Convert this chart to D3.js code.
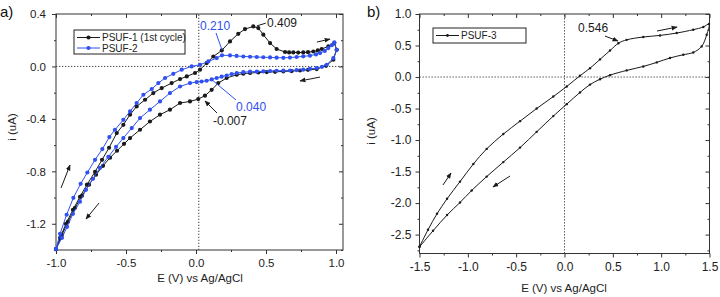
<!DOCTYPE html>
<html><head><meta charset="utf-8">
<script src="https://cdn.jsdelivr.net/npm/d3@7"></script>
<style>body{margin:0;background:#fff}svg{display:block;font-family:"Liberation Sans",Arial,sans-serif}</style>
</head><body><svg id="c" width="720" height="297"></svg>
<script>
// ---------- Panel a data (E in V, i in uA) ----------
const psuf1E = [
-1.000,-0.971,-0.929,-0.879,-0.829,-0.779,-0.721,-0.671,-0.621,-0.566,
-0.519,-0.471,-0.424,-0.364,-0.305,-0.245,-0.174,-0.114,-0.066,-0.007,
0.029,0.076,0.124,0.184,0.243,0.302,0.350,0.409,0.445,0.481,
0.529,0.576,0.636,0.665,0.695,0.730,0.766,0.800,0.838,0.870,
0.898,0.945,0.988,1.005,0.981,0.929,0.862,0.800,0.743,0.683,
0.624,0.565,0.505,0.445,0.386,0.338,0.291,0.219,0.159,0.112,
0.064,0.016,-0.043,-0.114,-0.186,-0.257,-0.329,-0.400,-0.471,-0.514,
-0.564,-0.614,-0.664,-0.714,-0.764,-0.814,-0.864,-0.914,-0.957,-1.000];
const psuf1I = [
-1.393,-1.307,-1.200,-1.093,-0.994,-0.902,-0.803,-0.712,-0.620,-0.508,
-0.445,-0.368,-0.305,-0.254,-0.203,-0.165,-0.127,-0.096,-0.076,-0.050,
-0.025,0.026,0.076,0.122,0.191,0.249,0.285,0.305,0.293,0.242,
0.178,0.133,0.110,0.107,0.107,0.106,0.107,0.109,0.114,0.122,
0.133,0.153,0.178,0.127,0.051,0.005,-0.020,-0.026,-0.031,-0.035,
-0.038,-0.041,-0.043,-0.046,-0.050,-0.055,-0.063,-0.088,-0.127,-0.178,
-0.223,-0.249,-0.267,-0.279,-0.330,-0.368,-0.420,-0.483,-0.546,-0.590,
-0.643,-0.696,-0.758,-0.826,-0.902,-0.986,-1.078,-1.184,-1.284,-1.393];
const psuf2E = [
-1.000,-0.971,-0.924,-0.876,-0.824,-0.776,-0.721,-0.669,-0.619,-0.579,
-0.519,-0.471,-0.424,-0.376,-0.316,-0.269,-0.221,-0.162,-0.102,-0.031,
0.029,0.088,0.148,0.186,0.243,0.290,0.338,0.386,0.434,0.481,
0.529,0.576,0.624,0.671,0.719,0.766,0.814,0.857,0.886,0.920,
0.945,0.970,0.988,1.005,0.981,0.934,0.900,0.862,0.814,0.766,
0.719,0.671,0.624,0.576,0.529,0.481,0.434,0.386,0.338,0.291,
0.255,0.219,0.183,0.148,0.112,0.076,0.040,0.005,-0.043,-0.114,
-0.186,-0.257,-0.329,-0.400,-0.459,-0.519,-0.571,-0.626,-0.686,-0.736,
-0.786,-0.829,-0.879,-0.921,-0.957,-1.000];
const psuf2I = [
-1.393,-1.276,-1.131,-1.002,-0.895,-0.809,-0.712,-0.630,-0.539,-0.483,
-0.407,-0.343,-0.279,-0.216,-0.172,-0.127,-0.088,-0.056,-0.025,0.000,
0.013,0.038,0.064,0.085,0.084,0.080,0.076,0.074,0.072,0.070,
0.069,0.067,0.066,0.068,0.072,0.077,0.082,0.092,0.102,0.118,
0.140,0.162,0.183,0.127,0.064,0.013,-0.003,-0.012,-0.019,-0.025,
-0.028,-0.031,-0.032,-0.033,-0.035,-0.038,-0.039,-0.040,-0.044,-0.050,
-0.058,-0.069,-0.078,-0.088,-0.099,-0.109,-0.115,-0.119,-0.127,-0.153,
-0.203,-0.267,-0.330,-0.394,-0.470,-0.546,-0.613,-0.689,-0.773,-0.857,
-0.941,-1.032,-1.124,-1.223,-1.307,-1.393];

// ---------- Panel b data ----------
const psuf3E = [
-1.500,-1.412,-1.319,-1.215,-1.081,-0.943,-0.805,-0.633,-0.460,-0.288,
-0.116,0.023,0.160,0.264,0.367,0.471,0.557,0.643,0.815,0.988,
1.161,1.332,1.436,1.495,1.471,1.419,1.332,1.229,1.091,0.954,
0.815,0.643,0.471,0.367,0.264,0.160,0.023,-0.116,-0.288,-0.460,
-0.633,-0.805,-0.960,-1.081,-1.215,-1.360,-1.500];
const psuf3I = [
-2.694,-2.424,-2.170,-1.932,-1.660,-1.380,-1.140,-0.905,-0.700,-0.500,
-0.310,-0.150,0.020,0.140,0.280,0.420,0.535,0.590,0.635,0.660,
0.698,0.751,0.794,0.841,0.671,0.486,0.390,0.354,0.302,0.232,
0.168,0.105,0.030,-0.035,-0.120,-0.245,-0.430,-0.620,-0.870,-1.120,
-1.350,-1.580,-1.800,-1.990,-2.190,-2.440,-2.694];

// ---------- Ticks ----------
const aXTicks = [-1, -0.5, 0, 0.5, 1];
const aXMinor = [-0.75, -0.25, 0.25, 0.75];
const aYTicks = [-1.2, -0.8, -0.4, 0, 0.4];
const aYMinor = [-1.4, -1.0, -0.6, -0.2, 0.2];
const bXTicks = [-1.5, -1, -0.5, 0, 0.5, 1, 1.5];
const bXMinor = [-1.25, -0.75, -0.25, 0.25, 0.75, 1.25];
const bYTicks = [-2.5, -2, -1.5, -1, -0.5, 0, 0.5, 1];
const bYMinor = [-2.75, -2.25, -1.75, -1.25, -0.75, -0.25, 0.25, 0.75];

// ---------- Annotations (data coords) ----------
const aLabels = [
  {t:"0.409", E:0.507, I:0.301, c:"black"},
  {t:"0.210", E:0.029, I:0.278, c:"blue"},
  {t:"0.040", E:0.286, I:-0.340, c:"blue"},
  {t:"-0.007", E:0.121, I:-0.447, c:"black"}];
const aLeaders = [
  {E1:0.498,I1:0.330,E2:0.434,I2:0.309,c:"black",head:false},
  {E1:0.143,I1:0.255,E2:0.186,I2:0.125,c:"blue",head:false},
  {E1:0.107,I1:-0.096,E2:0.286,I2:-0.256,c:"blue",head:false},
  {E1:0.150,I1:-0.355,E2:0.064,I2:-0.263,c:"black",head:true},
  {E1:0.864,I1:0.186,E2:0.957,I2:0.209,c:"black",head:true},
  {E1:0.886,I1:-0.081,E2:0.743,I2:-0.111,c:"black",head:true},
  {E1:-0.964,I1:-0.927,E2:-0.900,I2:-0.752,c:"black",head:true},
  {E1:-0.693,I1:-1.042,E2:-0.786,I2:-1.164,c:"black",head:true}];
const bLabels = [{t:"0.546", E:0.14, I:0.714, c:"black"}];
const bLeaders = [
  {E1:0.419,I1:0.650,E2:0.553,I2:0.571,c:"black",head:true},
  {E1:0.957,I1:0.730,E2:1.164,I2:0.793,c:"black",head:true},
  {E1:-1.257,I1:-1.713,E2:-1.174,I2:-1.523,c:"black",head:true},
  {E1:-0.564,I1:-1.571,E2:-0.740,I2:-1.745,c:"black",head:true}];

const COLORS = {black:"#1a1a1a", blue:"#3050f0"};
const zip = (E, I) => E.map((e, k) => [e, I[k]]);

const svg = d3.select("#c");
const defs = svg.append("defs");
["black","blue"].forEach(k => {
  defs.append("marker").attr("id","ah-"+k).attr("viewBox","0 0 10 10")
    .attr("refX",9).attr("refY",5).attr("markerWidth",6).attr("markerHeight",6)
    .attr("markerUnits","userSpaceOnUse").attr("orient","auto")
    .append("path").attr("d","M0,1 L10,5 L0,9 Z").attr("fill",COLORS[k]);
});

function panel(cfg) {
  const {x, y} = cfg;
  const g = svg.append("g");
  const [x0, x1] = x.range(), [y0, y1] = y.range();
  const fmt = d => d.toFixed(1);
  const styleAxis = sel => { sel.select(".domain").remove(); sel.selectAll("line").attr("stroke","#333");
    sel.selectAll("text").attr("fill","#222").style("font-size",cfg.tickFont).style("font-family",'"Liberation Sans",Arial,sans-serif'); };
  // dotted crosshair
  g.append("line").attr("x1",x0).attr("x2",x1).attr("y1",y(0)).attr("y2",y(0))
    .attr("stroke","#444").attr("stroke-dasharray","1.3,1.7");
  g.append("line").attr("x1",x(cfg.vE)).attr("x2",x(cfg.vE)).attr("y1",y0).attr("y2",y1)
    .attr("stroke","#444").attr("stroke-dasharray","1.3,1.7");
  // axes
  g.append("g").attr("transform",`translate(0,${y0})`).call(d3.axisBottom(x).tickValues(cfg.xt).tickSize(4).tickPadding(5).tickFormat(fmt)).call(styleAxis);
  g.append("g").attr("transform",`translate(0,${y0})`).call(d3.axisBottom(x).tickValues(cfg.xm).tickSize(2).tickFormat("")).call(styleAxis);
  g.append("g").attr("transform",`translate(${x0},0)`).call(d3.axisLeft(y).tickValues(cfg.yt).tickSize(4).tickPadding(cfg.yPad).tickFormat(fmt)).call(styleAxis);
  g.append("g").attr("transform",`translate(${x0},0)`).call(d3.axisLeft(y).tickValues(cfg.ym).tickSize(2).tickFormat("")).call(styleAxis);
  g.append("g").attr("transform",`translate(0,${y1})`).call(d3.axisTop(x).tickValues(cfg.xt).tickSize(-4).tickFormat("")).call(styleAxis);
  g.append("g").attr("transform",`translate(0,${y1})`).call(d3.axisTop(x).tickValues(cfg.xm).tickSize(-2).tickFormat("")).call(styleAxis);
  g.append("g").attr("transform",`translate(${x1},0)`).call(d3.axisRight(y).tickValues(cfg.yt).tickSize(-4).tickFormat("")).call(styleAxis);
  g.append("g").attr("transform",`translate(${x1},0)`).call(d3.axisRight(y).tickValues(cfg.ym).tickSize(-2).tickFormat("")).call(styleAxis);
  g.append("rect").attr("x",x0).attr("y",y1).attr("width",x1-x0).attr("height",y0-y1)
    .attr("fill","none").attr("stroke","#333").attr("stroke-width",1);
  // series
  const line = d3.line().x(d => x(d[0])).y(d => y(d[1])).curve(cfg.curve);
  cfg.series.forEach(s => {
    g.append("path").datum(s.pts).attr("d",line).attr("fill","none")
      .attr("stroke",COLORS[s.c]).attr("stroke-width",1);
    g.selectAll(null).data(s.pts).enter().append("circle")
      .attr("cx",d => x(d[0])).attr("cy",d => y(d[1])).attr("r",s.r).attr("fill",COLORS[s.c]);
  });
  // leaders / arrows
  cfg.leaders.forEach(a => {
    const l = g.append("line").attr("x1",x(a.E1)).attr("y1",y(a.I1)).attr("x2",x(a.E2)).attr("y2",y(a.I2))
      .attr("stroke",COLORS[a.c]).attr("stroke-width",1);
    if (a.head) l.attr("marker-end",`url(#ah-${a.c})`);
  });
  cfg.labels.forEach(a => {
    g.append("text").attr("x",x(a.E)).attr("y",y(a.I)).text(a.t)
      .attr("fill",COLORS[a.c]).style("font-size","12px");
  });
  // legend
  const lg = cfg.legend;
  g.append("rect").attr("x",lg.x).attr("y",lg.y).attr("width",lg.w).attr("height",lg.h)
    .attr("fill","#fff").attr("stroke","#222").attr("stroke-width",1);
  lg.items.forEach((it, k) => {
    const yy = lg.y + lg.first + k * lg.step;
    g.append("line").attr("x1",lg.x+3).attr("x2",lg.x+26).attr("y1",yy).attr("y2",yy)
      .attr("stroke",COLORS[it.c]).attr("stroke-width",1);
    g.append("circle").attr("cx",lg.x+14.5).attr("cy",yy).attr("r",it.r).attr("fill",COLORS[it.c]);
    g.append("text").attr("x",lg.x+28).attr("y",yy+3.5).text(it.t).attr("fill","#222").style("font-size","10px");
  });
  // titles
  g.append("text").attr("x",cfg.xtX).attr("y",cfg.xtY).attr("text-anchor","middle")
    .style("font-size","11.5px").attr("fill","#222").text("E (V) vs Ag/AgCl");
  g.append("text").attr("transform",`translate(${cfg.ytX},${cfg.ytY}) rotate(-90)`).attr("text-anchor","middle")
    .style("font-size","11.5px").attr("fill","#222").text("i (uA)");
  g.append("text").attr("x",cfg.tagX).attr("y",17).style("font-size","15px").attr("fill","#111").text(cfg.tag);
}

panel({
  x: d3.scaleLinear().domain([-1, 1.05]).range([56, 343]),
  y: d3.scaleLinear().domain([-1.4, 0.4]).range([250, 14]),
  xt: aXTicks, xm: aXMinor, yt: aYTicks, ym: aYMinor, vE: 0.02,
  tickFont: "11.5px", yPad: 6,
  curve: d3.curveLinear,
  series: [{pts: zip(psuf1E, psuf1I), c:"black", r:2.1}, {pts: zip(psuf2E, psuf2I), c:"blue", r:2.1}],
  leaders: aLeaders, labels: aLabels,
  legend: {x:74, y:30, w:111, h:24, first:7.5, step:10.5,
    items:[{t:"PSUF-1 (1st cycle)", c:"black", r:2.1},{t:"PSUF-2", c:"blue", r:2.1}]},
  xtX: 200, xtY: 282, ytX: 16, ytY: 127, tag: "a)", tagX: 0
});
panel({
  x: d3.scaleLinear().domain([-1.5, 1.5]).range([419.5, 709.5]),
  y: d3.scaleLinear().domain([-2.8, 1.0]).range([253.5, 14]),
  xt: bXTicks, xm: bXMinor, yt: bYTicks, ym: bYMinor, vE: 0,
  tickFont: "12px", yPad: 4,
  curve: d3.curveCatmullRom,
  series: [{pts: zip(psuf3E, psuf3I), c:"black", r:1.2}],
  leaders: bLeaders, labels: bLabels,
  legend: {x:433, y:28, w:93, h:15, first:7.5, step:10,
    items:[{t:"PSUF-3", c:"black", r:1.4}]},
  xtX: 564, xtY: 292, ytX: 375, ytY: 131, tag: "b)", tagX: 367
});
</script></body></html>
